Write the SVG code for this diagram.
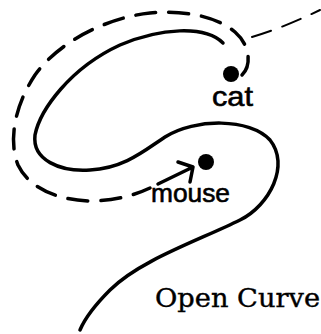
<svg xmlns="http://www.w3.org/2000/svg" width="321" height="334" viewBox="0 0 321 334">
<style>
.curve{fill:none;stroke:#000;stroke-width:3.5;stroke-linecap:round;stroke-linejoin:round}
.dash{fill:none;stroke:#000;stroke-width:3.5;stroke-linecap:round;stroke-dasharray:20 13}
.thin{fill:none;stroke:#000;stroke-width:2;stroke-linecap:round;stroke-dasharray:20 12}
.lbl{font-family:"Liberation Sans",Arial,sans-serif;fill:#000;stroke:#000;stroke-width:0.6}
.title{font-family:"DejaVu Serif","Liberation Serif",serif;fill:#000;stroke:#000;stroke-width:0.4}
</style>
<rect width="321" height="334" fill="#fff"/>
<g id="connectors">
<path id="open-curve" class="curve" d="M223,43 C205,25 160,28 120,45 C70,68 40,110 35,135 C32,160 60,172 90,170 C125,168 145,150 165,137 C195,118 250,118 270,140 C290,165 270,205 240,220 C200,240 140,260 110,290 C95,305 85,318 80,330"/>
<path id="cat-path" class="dash" d="M242,75 C252,65 250,45 235,32 C215,15 180,10 150,13 C110,17 60,40 35,75 C15,105 8,140 18,165 C30,190 60,200 90,201 C115,201 135,195 150,188"/>
<path class="curve" d="M158,184 L193,167 M178,162 L193,167 L190,182"/>
<path class="thin" d="M252,37 C275,30 295,22 320,10"/>
</g>
<g id="cat">
<circle cx="231" cy="74" r="8"/>
<text class="lbl" x="212" y="106" font-size="28" textLength="41" lengthAdjust="spacingAndGlyphs">cat</text>
</g>
<g id="mouse">
<circle cx="206" cy="162" r="8"/>
<text class="lbl" x="151" y="202" font-size="26" textLength="79" lengthAdjust="spacingAndGlyphs">mouse</text>
</g>
<g id="title">
<text class="title" x="155" y="307" font-size="26" textLength="165" lengthAdjust="spacingAndGlyphs">Open Curve</text>
</g>
</svg>
